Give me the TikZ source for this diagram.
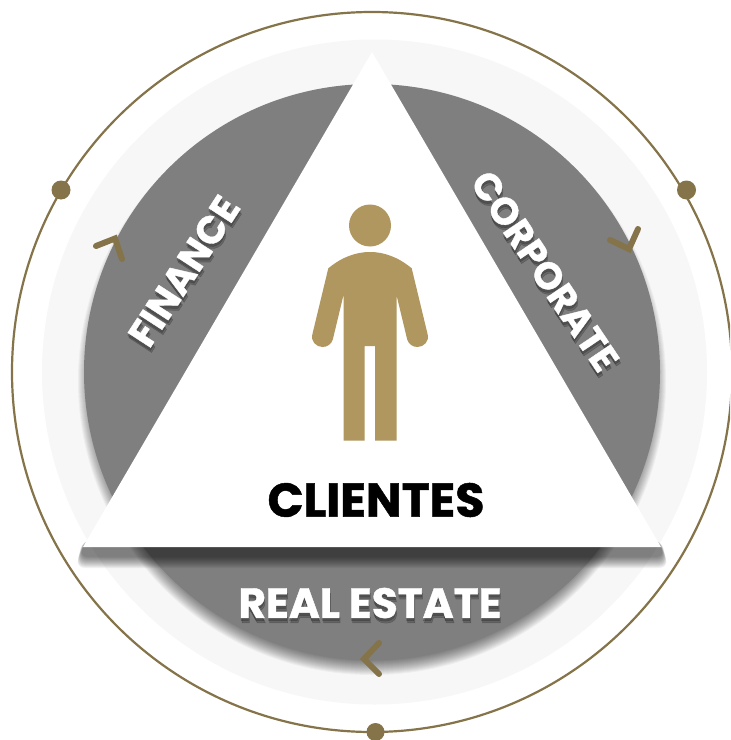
\documentclass[tikz,border=0pt]{standalone}
\usepackage{fontspec}
\newfontfamily\lblfont[BoldFeatures={FakeBold=1.0}]{Poppins}
\definecolor{ringc}{HTML}{857349}
\definecolor{figc}{HTML}{B0965F}
\definecolor{halo}{HTML}{F7F7F7}
\definecolor{discc}{HTML}{7F7F7F}
\tikzset{
  ringline/.style={draw=ringc,line width=1.25pt,fill=none},
  knob/.style={fill=ringc,draw=none},
  chevron/.style={draw=ringc,line width=3.4pt,line cap=round,line join=miter},
  figure part/.style={fill=figc,draw=none},
  lbl/.style={font=\lblfont\bfseries\fontsize{#1}{#1}\selectfont,text=white,inner sep=0pt,anchor=center},
  lblshadow/.style={text opacity=.2,text=black},
}
% text with a soft drop shadow: #1 name, #2 position, #3 angle, #4 size, #5 text
\newcommand\softlabel[5]{%
  \foreach \dx/\dy/\k in {0/3/a,1/5/b}{
    \node[lbl=#4,lblshadow,rotate=#3] (#1-s\k) at ([shift={(\dx,\dy)}]#2) {#5};
  }
  \node[lbl=#4,rotate=#3] (#1) at (#2) {#5};
}
\begin{document}
\begin{tikzpicture}[x=0.02cm,y=-0.02cm]
\useasboundingbox (0,0) rectangle (730,740);
\clip (0,0) rectangle (730,740);
\fill[white] (0,0) rectangle (730,740);
\coordinate (C) at (372,372);
\coordinate (H) at (374.5,372);
\coordinate (S) at (372,381);
% outer ring
\draw[ringline] (C) circle[radius=360];
% halo
\fill[halo] (H) circle[radius=332.5];
% disc shadow
\foreach \r in {277,278,...,294}{
  \fill[black,opacity=.04] (S) circle[radius=\r];
}
% disc
\fill[discc] (C) circle[radius=288];
% triangle shadow
\foreach \i in {0,1,...,11}{
  \fill[black,opacity=.05,rounded corners=5]
    ({86-\i*0.3},540) -- ({658+\i*0.3},540) -- ({665+\i*.3},{557+\i}) -- ({79-\i*.3},{557+\i}) -- cycle;
}
% triangle
\fill[white] (372,52) -- (661,547) -- (83,547) -- cycle;
% knobs
\fill[knob] (61,190) circle[radius=9.5];
\fill[knob] (686.5,190) circle[radius=9.5];
\fill[knob] (375.5,732) circle[radius=9];
% chevrons
\coordinate (la) at (96,246); \coordinate (lb) at (115,238.5); \coordinate (lc) at (122,259);
\coordinate (ra) at (610,240); \coordinate (rb) at (629,249); \coordinate (rc) at (638,229);
\coordinate (ba) at (379,643); \coordinate (bb) at (364,659); \coordinate (bc) at (379,674);
\draw[chevron] (la) -- (lb) -- (lc);
\draw[chevron] (ra) -- (rb) -- (rc);
\draw[chevron] (ba) -- (bb) -- (bc);
% person
\fill[figure part] (370,225.5) circle[radius=21];
\fill[figure part]
  (328.3,268.3) .. controls (342,257) and (356,252) .. (370,252)
  .. controls (384,252) and (398,257) .. (411.7,268.3)
  -- (427.6,334.2) .. controls (429.5,341) and (424,347) .. (417.5,347)
  .. controls (412.5,347) and (408.5,344) .. (407.2,339.5)
  -- (396.5,295) -- (396.5,440.7) -- (375,440.7) -- (375,346) -- (364.7,346) -- (364.7,440.7)
  -- (343.5,440.7) -- (343.5,295) -- (332.8,339.5)
  .. controls (331.5,344) and (327.5,347) .. (322.5,347)
  .. controls (316,347) and (310.5,341) .. (312.4,334.2) -- cycle;
% labels
\coordinate (fp) at (184,271);
\coordinate (cp) at (545,271);
\coordinate (rp) at (370,603);
\softlabel{finance}{fp}{57}{22}{FINANCE}
\softlabel{corporate}{cp}{-56}{21.5}{CORPORATE}
\softlabel{realestate}{rp}{0}{24}{REAL ESTATE}
\node[font=\lblfont\bfseries\fontsize{27}{27}\selectfont,text=black,inner sep=0pt] (clientes) at (376,500) {CLIENTES};
\end{tikzpicture}
\end{document}
